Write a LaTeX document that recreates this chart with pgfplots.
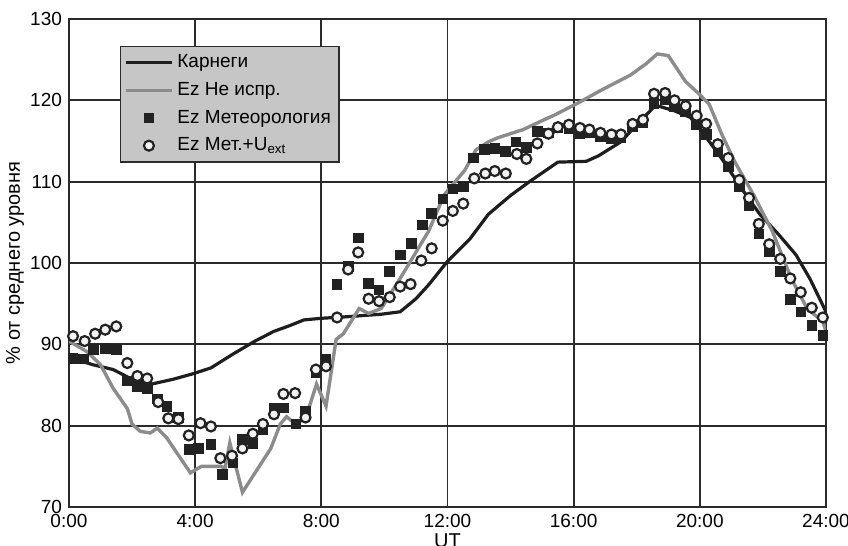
\documentclass[border=0pt]{standalone}
\usepackage{fontspec}
\setmainfont{Liberation Sans}
\usepackage{pgfplots}
\pgfplotsset{compat=1.18}
\definecolor{Cblack}{HTML}{1E1E1E}
\definecolor{Cgrey}{HTML}{8C8C8C}
\definecolor{Cgrid}{HTML}{2B2B2B}
\definecolor{Clegbg}{HTML}{C6C6C6}
\definecolor{Cmark}{HTML}{222222}
\definecolor{Cfill}{HTML}{F2F2F2}

\begin{document}
\begin{tikzpicture}
\begin{axis}[
  scale only axis,
  width=378.5pt, height=244pt,
  xmin=0, xmax=24, ymin=70, ymax=130,
  xtick={0,4,8,12,16,20,24},
  xticklabels={0:00,4:00,8:00,12:00,16:00,20:00,24:00},
  ytick={70,80,...,130},
  grid=major,
  major grid style={Cgrid, line width=0.9pt},
  axis line style={Cgrid, line width=1pt},
  major tick length=0pt,
  tick label style={font=\fontsize{9.5}{10}\selectfont},
  /pgf/number format/assume math mode=true,
  xlabel={UT},
  ylabel={\% от среднего уровня},
  xlabel style={at={(axis description cs:0.5,-0.07)}, anchor=center, font=\fontsize{10}{11}\selectfont},
  ylabel style={at={(axis description cs:-0.0713,0.5)}, anchor=center, font=\fontsize{10}{11}\selectfont},
  legend style={at={(rel axis cs:0.067,0.945)}, anchor=north west,
    fill=Clegbg, draw=Cgrid, line width=0.8pt,
    font=\fontsize{9.5}{11}\selectfont, inner sep=2pt, row sep=1.8pt},
  legend cell align=left,
  legend image code/.code={\draw[mark repeat=2,mark phase=2,#1] plot coordinates {(0cm,0cm) (0.4cm,0cm) (0.8cm,0cm)};},
]
% Carnegie curve
\addplot[Cblack, line width=1.6pt] coordinates {
(0,88.4) (0.75,87.5) (1.4,86.9) (2.0,85.7) (2.6,85.1) (3.3,85.7) (3.95,86.4)
(4.5,87.1) (5.2,88.8) (5.9,90.4) (6.5,91.6) (7.0,92.3) (7.45,93.0) (8.0,93.2)
(8.85,93.4) (9.9,93.7) (10.5,94.0) (11.0,95.6) (11.4,97.3) (12.0,100.2)
(12.7,102.9) (13.3,106.0) (14.0,108.3) (14.6,110.0) (15.5,112.4) (16.4,112.5)
(16.8,113.2) (17.5,114.9) (18.0,117.0) (18.6,119.4) (19.2,118.7) (19.7,117.9)
(20.1,116.0) (20.7,112.8) (21.3,109.3) (21.9,106.0) (22.5,103.5) (23.05,101.0)
(23.5,98.0) (24,94.0)
};
\addlegendentry{Карнеги}
% Ez uncorrected
\addplot[Cgrey, line width=1.7pt] coordinates {
(0,90.4) (0.57,89.1) (1.0,87.5) (1.4,84.6) (1.85,82.1) (2.0,80.2) (2.26,79.3)
(2.58,79.1) (2.8,79.7) (3.1,78.5) (3.5,76.2) (3.85,74.2) (4.2,75.0) (4.8,75.0)
(4.95,74.8) (5.1,77.9) (5.5,71.8) (6.0,74.8) (6.4,77.2) (6.7,80.2) (6.9,81.1)
(7.15,80.3) (7.36,80.6) (7.6,82.1) (7.85,85.1) (8.15,82.4) (8.47,90.6)
(8.7,91.3) (9.2,94.4) (9.5,93.8) (9.9,94.4) (10.5,98.1) (11.4,103.9)
(11.9,108.4) (12.55,111.4) (12.9,113.9) (13.3,114.9) (13.6,115.4) (14.4,116.4)
(15.0,117.5) (15.4,118.2) (16.2,119.8) (16.9,121.3) (17.8,123.1) (18.3,124.5)
(18.65,125.7) (19.0,125.5) (19.55,122.3) (20.0,120.7) (20.3,119.5) (20.7,115.8)
(21.1,112.5) (21.7,108.4) (22.3,103.9) (22.9,98.1) (23.4,94.4) (23.9,92.8)
(24,91.6)
};
\addlegendentry{Ez Не испр.}
% Ez meteorology
\addplot[only marks, mark=square*, mark size=2.4pt, mark options={fill=Cmark, draw=Cmark, line width=0.4pt}] coordinates {
(0.13,88.3) (0.45,88.2) (0.77,89.4) (1.15,89.5) (1.5,89.4) (1.85,85.5)
(2.17,84.8) (2.48,84.6) (2.8,83.3) (3.1,82.4) (3.47,81.0) (3.8,77.1)
(4.1,77.2) (4.5,77.7) (4.87,74.0) (5.2,75.4) (5.5,78.3) (5.83,77.8)
(6.15,79.5) (6.5,82.2) (6.8,82.2) (7.2,80.2) (7.5,81.8) (7.83,86.5)
(8.15,88.2) (8.5,97.4) (8.85,99.6) (9.17,103.1) (9.5,97.5) (9.83,96.7)
(10.15,99.0) (10.5,101.0) (10.85,102.4) (11.2,104.7) (11.5,106.1)
(11.85,107.9) (12.17,109.1) (12.5,109.4) (12.83,112.9) (13.17,114.0)
(13.5,114.1) (13.83,113.7) (14.17,114.9) (14.5,114.2) (14.85,116.2)
(15.2,116.0) (15.5,116.6) (15.85,116.5) (16.2,115.9) (16.5,116.0)
(16.85,115.6) (17.2,115.3) (17.5,115.4) (17.87,116.8) (18.2,117.3)
(18.55,119.6) (18.9,120.1) (19.2,119.2) (19.55,118.6) (19.9,117.0)
(20.2,115.8) (20.57,113.7) (20.9,111.9) (21.25,109.4) (21.56,107.1)
(21.87,103.6) (22.2,101.4) (22.55,99.0) (22.87,95.5) (23.2,94.0)
(23.55,92.3) (23.9,91.1)
};
\addlegendentry{Ez Метеорология}
% Ez met. + U_ext
\addplot[only marks, mark=*, mark size=2.5pt, mark options={fill=Cfill, draw=Cmark, line width=1.1pt}] coordinates {
(0.13,91.0) (0.5,90.4) (0.83,91.3) (1.15,91.8) (1.5,92.2) (1.85,87.7)
(2.17,86.1) (2.48,85.8) (2.83,82.9) (3.15,80.9) (3.47,80.8) (3.8,78.8)
(4.17,80.3) (4.5,79.9) (4.8,76.0) (5.17,76.3) (5.5,77.2) (5.83,79.0)
(6.15,80.2) (6.5,81.4) (6.8,83.9) (7.17,84.0) (7.5,81.0) (7.83,86.9)
(8.15,87.3) (8.5,93.3) (8.85,99.2) (9.17,101.3) (9.5,95.6) (9.83,95.3)
(10.17,95.8) (10.5,97.1) (10.83,97.4) (11.17,100.3) (11.5,101.8)
(11.85,105.2) (12.17,106.4) (12.5,107.3) (12.85,110.4) (13.2,111.0)
(13.5,111.3) (13.85,111.0) (14.2,113.4) (14.5,112.8) (14.85,114.7)
(15.2,115.9) (15.5,116.7) (15.85,117.0) (16.2,116.6) (16.5,116.4)
(16.85,116.0) (17.2,115.8) (17.5,115.8) (17.87,117.1) (18.2,117.6)
(18.55,120.8) (18.9,120.9) (19.2,120.0) (19.55,119.3) (19.9,118.1)
(20.2,117.1) (20.57,114.6) (20.9,112.9) (21.25,110.2) (21.56,108.0)
(21.87,104.8) (22.2,102.3) (22.55,100.5) (22.87,98.1) (23.2,96.4)
(23.55,94.5) (23.9,93.3)
};
\addlegendentry{Ez Мет.+U\textsubscript{ext}}
\coordinate (bl) at (rel axis cs:-0.0911,-0.0779);
\coordinate (tr) at (rel axis cs:1.0291,1.0389);
\end{axis}
\pgfresetboundingbox
\path[use as bounding box] (bl) rectangle (tr);
\end{tikzpicture}
\end{document}
